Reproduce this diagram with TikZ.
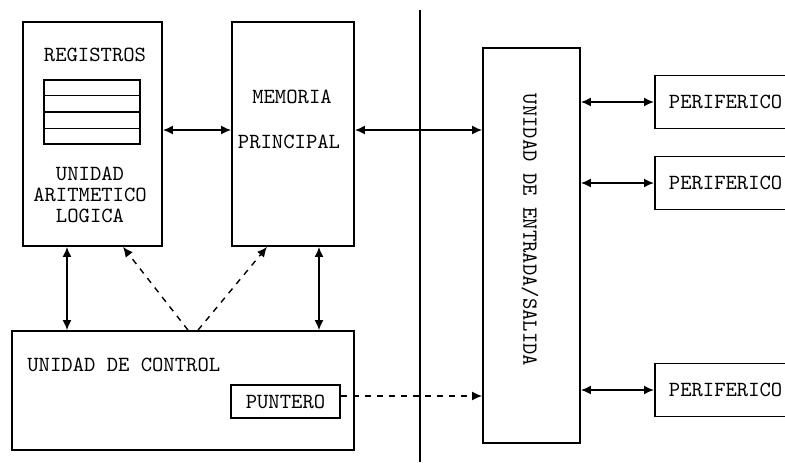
\documentclass[tikz,border=0pt]{standalone}
\usepackage{fontspec}
\usetikzlibrary{arrows.meta,calc}

\tikzset{
  box/.style={draw, line width=0.9pt, inner sep=0pt},
  lbl/.style={font=\ttfamily\fontsize{10.8}{10.5}\selectfont, inner sep=0pt},
  link/.style={line width=0.8pt, {Latex[length=5pt,width=4.5pt]}-{Latex[length=5pt,width=4.5pt]}},
  ctrl/.style={line width=0.7pt, dash pattern=on 3pt off 3pt, -{Latex[length=5pt,width=4.5pt]}},
}

\begin{document}
\begin{tikzpicture}[x=0.5pt,y=-0.5pt]
\useasboundingbox (0,0) rectangle (785,462);
\clip (0,0) rectangle (785,462);

% Boxes (coordinates in pixels of the sketch)
\node[box, minimum width=69.5pt, minimum height=112pt] (alu) at (92.5,134) {};
\node[box, minimum width=61pt, minimum height=112pt] (mem) at (293,134) {};
\node[box, minimum width=171pt, minimum height=59.5pt] (cu) at (183,390.5) {};
\node[box, lbl, minimum width=54.5pt, minimum height=16.5pt] (punt) at (285.5,401.5) {PUNTERO};
\node[box, minimum width=48.5pt, minimum height=197.5pt] (es) at (531.5,245.5) {};

% Registers
\node[box, minimum width=48pt, minimum height=32pt] (regs) at (92,112) {};
\foreach \i in {1,2,3}
  \draw[line width=0.9pt] ($(regs.north west)!\i/4!(regs.south west)$) -- ($(regs.north east)!\i/4!(regs.south east)$);

% Texts
\node[lbl] (regt) at (95,55) {REGISTROS};
\node[lbl, align=center] (alut) at (90,195) {UNIDAD\\ARITMETICO\\LOGICA};
\node[lbl] (memt) at (292,97) {MEMORIA};
\node[lbl] (prit) at (289,142) {PRINCIPAL};
\node[lbl, anchor=west] (cut) at (27,365) {UNIDAD DE CONTROL};
\node[lbl, rotate=-90] (est) at (530,230) {UNIDAD DE ENTRADA/SALIDA};

% Peripherals
\foreach \n/\y in {1/102, 2/183, 3/390}
  \node[box, lbl, anchor=west, minimum height=26.5pt, text width=60pt, inner xsep=7pt, align=left] (per\n) at (654,\y) {PERIFERICO};

% Bus line
\coordinate (bustop) at (420,10);
\coordinate (busbot) at (420,462);
\draw[line width=0.9pt] (bustop) -- (busbot);

% Connectors
\coordinate (a1) at ([yshift=2pt]alu.east);
\coordinate (m1) at ([yshift=2pt]mem.east);
\coordinate (a2) at ([xshift=-12.75pt]alu.south);
\coordinate (m2) at ([xshift=13pt]mem.south);
\coordinate (p1) at ([yshift=2.75pt]punt.east);
\draw[link] (a1) -- (a1 -| mem.west);
\draw[link] (m1) -- (m1 -| es.west);
\foreach \n in {1,2,3}
  \draw[link] (per\n.west -| es.east) -- (per\n.west);
\draw[link] (a2) -- (a2 |- cu.north);
\draw[link] (m2) -- (m2 |- cu.north);
\draw[ctrl] ([xshift=2.5pt]cu.north) -- ([xshift=15.25pt]alu.south);
\draw[ctrl] ([xshift=7.5pt]cu.north) -- ([xshift=-13pt]mem.south);
\draw[ctrl] (p1) -- (p1 -| es.west);
\end{tikzpicture}
\end{document}
